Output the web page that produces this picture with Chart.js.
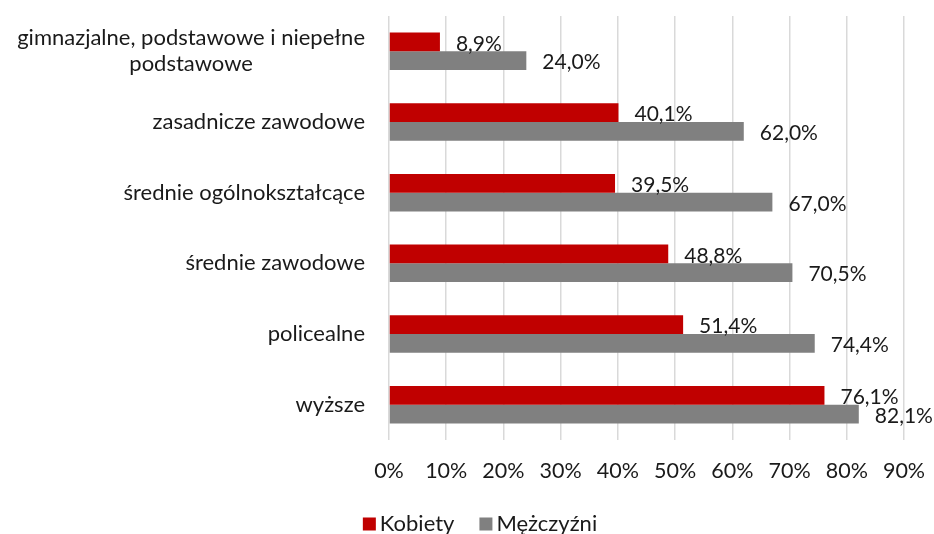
<!DOCTYPE html>
<html><head><meta charset="utf-8">
<script src="https://cdn.jsdelivr.net/npm/chart.js@4/dist/chart.umd.min.js"></script>
<style>html,body{margin:0;padding:0;background:#fff}#wrap{width:934px;height:534px}</style>
</head><body><div id="wrap"><canvas id="c" width="934" height="534"></canvas></div>
<script>
const categories = [
  ['gimnazjalne, podstawowe i niepełne', 'podstawowe'],
  'zasadnicze zawodowe',
  'średnie ogólnokształcące',
  'średnie zawodowe',
  'policealne',
  'wyższe'
];
const kobiety = [8.9, 40.1, 39.5, 48.8, 51.4, 76.1];
const mezczyzni = [24.0, 62.0, 67.0, 70.5, 74.4, 82.1];
const seriesNames = ['Kobiety', 'Mężczyźni'];
const xTicks = [0,10,20,30,40,50,60,70,80,90];

const FONT = 'Lato, "Open Sans", sans-serif';
const TXT = '#1a1a1a';
const COLORS = ['#C00000', '#808080'];

const fmt = v => v.toFixed(1).replace('.', ',') + '%';

const dataLabels = {
  id: 'dataLabels',
  afterDatasetsDraw(chart) {
    const ctx = chart.ctx;
    ctx.save();
    ctx.font = '21px ' + FONT;
    ctx.fillStyle = TXT;
    ctx.textAlign = 'left';
    ctx.textBaseline = 'middle';
    chart.data.datasets.forEach((ds, di) => {
      const meta = chart.getDatasetMeta(di);
      meta.data.forEach((el, i) => {
        ctx.fillText(fmt(ds.data[i]), el.x + 16, el.y + 2);
      });
    });
    ctx.restore();
  }
};

const yLabels = {
  id: 'yLabels',
  afterDraw(chart) {
    const ctx = chart.ctx;
    const sc = chart.scales.y;
    ctx.save();
    ctx.font = '22px ' + FONT;
    ctx.fillStyle = TXT;
    ctx.textBaseline = 'middle';
    const right = sc.right - 24;
    categories.forEach((lab, i) => {
      const y = sc.getPixelForTick(i);
      if (Array.isArray(lab)) {
        const w = Math.max(...lab.map(s => ctx.measureText(s).width));
        const cx = right - w / 2;
        ctx.textAlign = 'center';
        const lh = 26;
        const y0 = y - (lab.length - 1) * lh / 2;
        lab.forEach((s, k) => ctx.fillText(s, cx, y0 + k * lh));
      } else {
        ctx.textAlign = 'right';
        ctx.fillText(lab, right, y);
      }
    });
    ctx.restore();
  }
};

const customLegend = {
  id: 'customLegend',
  afterDraw(chart) {
    const ctx = chart.ctx;
    ctx.save();
    ctx.font = '22px ' + FONT;
    ctx.textBaseline = 'middle';
    ctx.textAlign = 'left';
    const box = 13, gapText = 4, gapItem = 25;
    const items = chart.data.datasets.map(ds => ({ text: ds.label, color: ds.backgroundColor, w: ctx.measureText(ds.label).width }));
    let total = 0;
    items.forEach((it, k) => { total += box + gapText + it.w + (k < items.length - 1 ? gapItem : 0); });
    let x = chart.width / 2 + 13 - total / 2;
    const cy = 524;
    items.forEach(it => {
      ctx.fillStyle = it.color;
      ctx.fillRect(x, cy - box / 2, box, box);
      ctx.fillStyle = TXT;
      ctx.fillText(it.text, x + box + gapText, cy);
      x += box + gapText + it.w + gapItem;
    });
    ctx.restore();
  }
};

new Chart(document.getElementById('c'), {
  type: 'bar',
  data: {
    labels: categories,
    datasets: [
      { label: seriesNames[0], data: kobiety, backgroundColor: COLORS[0], categoryPercentage: 0.53, barPercentage: 1.0 },
      { label: seriesNames[1], data: mezczyzni, backgroundColor: COLORS[1], categoryPercentage: 0.53, barPercentage: 1.0 }
    ]
  },
  options: {
    indexAxis: 'y',
    responsive: false,
    animation: false,
    devicePixelRatio: 1,
    layout: { padding: { top: 16, right: 30, left: 0, bottom: 42 } },
    scales: {
      x: {
        min: 0, max: 90,
        afterBuildTicks(scale) { scale.ticks = xTicks.map(v => ({ value: v })); },
        ticks: {
          callback: v => v + '%',
          font: { family: FONT, size: 21.5 },
          color: TXT,
          padding: 18,
          maxRotation: 0
        },
        grid: { color: '#d9d9d9', lineWidth: 1.5, drawTicks: false },
        border: { display: false },
        afterFit(scale) { scale.height = 52; scale.paddingRight = 0; scale.paddingLeft = 0; }
      },
      y: {
        ticks: { display: false },
        grid: { display: false },
        border: { display: false },
        afterFit(scale) { scale.width = 389; }
      }
    },
    plugins: {
      legend: { display: false },
      tooltip: { enabled: false }
    }
  },
  plugins: [dataLabels, yLabels, customLegend]
});
</script>
</body></html>
